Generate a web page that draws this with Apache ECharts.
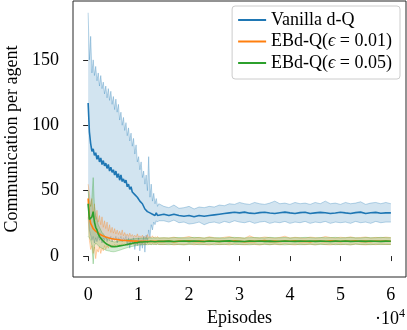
<!DOCTYPE html>
<html>
<head>
<meta charset="utf-8">
<script src="https://cdn.jsdelivr.net/npm/echarts@6/dist/echarts.min.js"></script>
<style>html,body{margin:0;padding:0;background:#fff;}#c{width:407px;height:330px;}</style>
</head>
<body>
<div id="c"></div>
<script>
const episodes = [0,250,500,750,1000,1250,1500,1750,2000,2250,2500,2750,3000,3250,3500,3750,4000,4250,4500,4750,5000,5250,5500,5750,6000,6250,6500,6750,7000,7250,7500,7750,8000,8250,8500,8750,9000,9250,9500,9750,10000,10250,10500,10750,11000,11250,11500,11750,12000,12250,12500,12750,13000,13250,13500,13750,14000,
15000,16000,17000,18000,19000,20000,21000,22000,23000,24000,25000,26000,27000,28000,29000,30000,31000,32000,33000,34000,35000,36000,37000,38000,39000,40000,41000,42000,43000,44000,45000,46000,47000,48000,49000,50000,51000,52000,53000,54000,55000,56000,57000,58000,59000,60000];

const vanillaMean = [117,95,86,80,82,77,79,74,77,72,75,70,73,69,71,67,70,65,68,64,66,62,65,60,63,58,62,57,59,56,58,53,55,51,53,49,50,47,48,45,46,42,43,40,39,36,37,34,35,33,34,32,33,31,33,31,32,
32,31,32,31,30.5,31,30,31,30.5,31,31.5,32,32.5,33,33.5,33,33.6,32.8,32.5,33.2,33.5,32.9,32.6,33.1,33.6,33,32.5,33.2,33.5,32.6,33,33.4,33.1,32.5,32.9,33.5,33,32.6,33.2,33.6,32.5,33.1,33.4,32.7,33,33];
const vanillaHigh = [186,150,168,140,150,138,145,134,140,130,138,128,133,124,130,121,128,119,126,116,122,112,120,110,116,104,110,100,106,96,102,92,98,88,94,84,90,78,85,72,76,66,72,60,65,55,62,50,76,45,55,42,48,40,44,38,40,
38,37,39,36.5,37,38,36,37.5,37,38,37.5,39,38.5,40,39.5,41,40,39.5,41,40,39.5,40.5,42,40,40.5,39.5,41,40,40.5,39.5,41,40,42,40,40.5,39.5,41,40,40.5,41.5,39.5,40.5,41,40,41,40];
const vanillaLow = [40,20,16,12,15,10,14,11,15,12,14,10,14,12,15,11,14,12,15,11,14,12,15,10,14,12,15,11,14,12,15,8,14,6,13,10,14,5,12,8,14,4,12,6,15,3,16,10,20,14,24,20,26,24,27,26,27,
27,26,27.5,25.5,26,24.5,25,26,24,25.5,26,25,26.5,25.5,27,26,25.5,26.5,25,26,26.5,25,26,25.5,26.5,25,26,25.5,26.5,25,26,25.5,26.5,25,26,25.5,26,25,26.5,25.5,26,25,26.5,25.5,26,26];

const eps01Mean = [44,30,25,26,21,22.5,19,19.5,17.5,17.5,16.3,16.5,15.3,15.5,14.6,14.7,14,14.1,13.5,13.6,13.1,13.2,12.8,12.9,12.5,12.6,12.2,12.4,12,12.2,11.9,12,11.7,11.9,11.6,11.8,11.5,11.7,11.4,11.6,11.3,11.5,11.2,11.5,11.3,11.5,11.2,11.5,11.3,11.4,11.2,11.5,11.3,11.4,11.2,11.5,11.3,
11.2,11.5,11,11.4,11.3,11.6,11.1,11.4,11.2,11.7,11.3,11.1,11.5,11.2,11.6,11.3,11,11.4,11.2,11.5,11.8,11.2,11.4,11.1,11.5,11.3,11.6,11.2,11.4,11,11.5,11.3,11.2,11.6,11.4,11.1,11.5,11.3,11.7,11.2,11.4,11.1,11.5,11.3,11.4,11.3];
const eps01High = [55,48,38,44,32,40,28,35,26,31,24,30,22,27,21,26,19,24,18,22,17.5,21,17,20,16.5,19,16,20,15.5,18,15.5,17,15,17.5,15,16.5,14.8,16,14.5,17,14.5,15.5,14.2,16,14.2,15,14,16.5,14,15,14,15.5,13.8,14.8,14,15,13.8,
14,13.8,14.5,13.6,14.2,15,13.8,14.3,13.7,14.8,14,13.6,14.4,14.9,13.8,14.2,13.6,15.5,14,13.9,14.6,14.1,13.7,14.3,15.2,13.8,14.4,14,13.7,14.5,14.1,13.9,15,14.2,13.8,14.4,14,14.7,13.9,14.2,14.6,13.8,14.3,14,14.5,14.1];
const eps01Low = [30,12,5,8,2,7,-2,5,3,7,2,6,4,8,5,8,6,9,6.5,8.5,7,9,7.5,9,8,9.2,8,9.5,8.2,9.5,8.5,9.4,8.6,9.5,8.5,9.6,8.7,9.4,8.6,9.7,8.8,9.5,8.7,9.6,8.8,9.4,8.6,9.6,8.9,9.5,8.7,9.6,8.8,9.5,8.7,9.6,8.8,
8.8,9.2,8.5,9,8.7,9.3,8.6,9.1,8.8,8.4,9.2,8.7,9,8.5,9.3,8.8,8.6,9.1,8.9,8.4,9.2,8.7,9,8.6,9.3,8.8,8.5,9.1,8.7,9,8.6,9.2,8.8,8.5,9.1,8.7,9,8.6,9.2,8.8,8.5,9,8.7,9.1,8.8,8.9];

const eps05Mean = [40,28,27,30,34,26,22,20,17,15,14,12.5,11.5,10.5,9.5,9,8.5,8,7.5,7.2,7,7.2,7,7.4,7.5,7.8,7.7,8.1,8.3,8.4,8.8,8.9,9.2,9.3,9.6,9.7,10,10.2,10.3,10.3,10.5,10.7,10.6,10.8,10.8,10.9,11.1,10.9,11,11.2,11,11.1,11.3,11,11.1,11.2,11.1,
11.2,11.4,11.1,11.3,11.5,11.2,11.4,11.3,11.1,11.5,11.3,11.2,11.4,11.6,11.2,11.3,11.1,11.4,11.3,11.5,11.2,11.4,11.1,11.3,11.5,11.3,11.2,11.4,11.3,11.5,11.2,11.4,11.3,11.1,11.4,11.3,11.5,11.2,11.3,11.4,11.2,11.5,11.3,11.2,11.4,11.3];
const eps05High = [50,40,38,45,60,38,31,28,24,22,20,18,17,15.5,14,13.2,12.5,12,11.5,11.2,11,10.8,11,11.2,11.3,11.5,11.6,11.8,12,12.2,12.4,12.5,12.7,12.8,13,13.1,13.2,13.3,13.4,13.5,13.5,13.6,13.6,13.7,13.7,13.8,13.8,13.7,13.8,13.9,13.8,13.9,14,13.8,13.9,14,13.9,
14,13.9,14.1,14.2,13.9,14,14.3,14.1,13.9,14.2,14,14.1,13.8,14.2,14.3,14,13.9,14.1,14.2,14,13.9,14.3,14.1,14,14.2,13.9,14.1,14,14.3,14.1,13.9,14.2,14,14.1,14.3,13.9,14.1,14.2,14,13.9,14.2,14.1,14,14.3,14.1,14];
const eps05Low = [15,14,12,8,-6,8,10,9,8,7,6.5,6,5.5,5,4.5,4.2,4,3.8,3.5,3.4,3.3,3.4,3.6,3.9,4.2,4.5,4.8,5.2,5.5,5.8,6.1,6.4,6.7,7,7.2,7.4,7.6,7.8,8,8.1,8.3,8.4,8.5,8.6,8.7,8.7,8.8,8.7,8.8,8.9,8.8,8.9,9,8.8,8.9,9,8.9,
8.9,8.7,9,8.8,8.6,8.9,9.1,8.7,8.8,9,8.6,8.9,8.8,9.1,8.7,8.9,8.8,8.6,9,8.8,8.9,8.7,9.1,8.8,8.6,8.9,9,8.7,8.8,9,8.6,8.9,8.8,9.1,8.7,8.9,8.8,8.6,9,8.8,8.9,8.7,9,8.8,8.9,8.8];

const seriesNames = ['Vanilla d-Q', 'EBd-Q(ϵ = 0.01)', 'EBd-Q(ϵ = 0.05)'];
const seriesColors = ['#1f77b4', '#ff7f0e', '#2ca02c'];
const xTicks = [0, 10000, 20000, 30000, 40000, 50000, 60000];
const yTicks = [0, 50, 100, 150];

const FONT = 'Liberation Serif';
const FS = 18;

function pairs(arr) { return episodes.map((x, i) => [x, arr[i]]); }

function bandSeries(low, high, color) {
  return {
    type: 'custom', silent: true, clip: true,
    data: [[episodes[0], low[0]]],
    renderItem: function (params, api) {
      const up = episodes.map((x, i) => api.coord([x, high[i]]));
      const dn = episodes.map((x, i) => api.coord([x, low[i]]));
      const poly = up.concat(dn.slice().reverse());
      return {
        type: 'group',
        children: [
          { type: 'polygon', shape: { points: poly }, style: { fill: color, opacity: 0.2 } },
          { type: 'polyline', shape: { points: up }, style: { stroke: color, fill: null, lineWidth: 1, opacity: 0.3 } },
          { type: 'polyline', shape: { points: dn }, style: { stroke: color, fill: null, lineWidth: 1, opacity: 0.3 } }
        ]
      };
    }
  };
}
function meanSeries(name, mean, color) {
  return {
    type: 'line', name: name, data: pairs(mean), symbol: 'none',
    itemStyle: { color: color },
    lineStyle: { color: color, width: 1.6 }
  };
}

const chart = echarts.init(document.getElementById('c'), null, { renderer: 'canvas' });
chart.setOption({
  animation: false,
  backgroundColor: '#ffffff',
  grid: {
    left: 73, right: 1, top: 1, bottom: 53,
    show: true, borderColor: '#262626', borderWidth: 1,
    containLabel: false, outerBoundsMode: 'none'
  },
  legend: {
    data: seriesNames,
    orient: 'vertical',
    right: 7, top: 6,
    padding: [5, 8, 7, 6],
    itemGap: 3.5,
    itemWidth: 28, itemHeight: 2,
    icon: 'rect',
    backgroundColor: 'rgba(255,255,255,0.8)',
    borderColor: '#cccccc', borderWidth: 1, borderRadius: 3,
    formatter: n => n.replace('ϵ', '{i|ϵ}'),
    textStyle: {
      fontFamily: FONT, fontSize: FS, color: '#000', lineHeight: 18,
      rich: { i: { fontFamily: FONT, fontSize: FS, fontStyle: 'italic', color: '#000' } }
    }
  },
  xAxis: {
    type: 'value', min: -3000, max: 63000,
    name: 'Episodes', nameLocation: 'middle', nameGap: 31,
    nameTextStyle: { fontFamily: FONT, fontSize: FS, color: '#000' },
    axisLine: { show: false },
    splitLine: { show: false },
    axisTick: { show: true, inside: false, length: 5, customValues: xTicks, lineStyle: { color: '#262626', width: 1 } },
    axisLabel: { customValues: xTicks, margin: 9, fontFamily: FONT, fontSize: FS, color: '#000', formatter: v => String(v / 10000) }
  },
  yAxis: {
    type: 'value', min: -16, max: 195,
    name: 'Communication per agent', nameLocation: 'middle', nameGap: 47,
    nameTextStyle: { fontFamily: FONT, fontSize: FS, color: '#000' },
    axisLine: { show: false },
    splitLine: { show: false },
    axisTick: { show: true, inside: false, length: 5, customValues: yTicks, lineStyle: { color: '#262626', width: 1 } },
    axisLabel: { customValues: yTicks, margin: 14, fontFamily: FONT, fontSize: FS, color: '#000' }
  },
  graphic: [{
    type: 'text', right: 2, top: 308,
    style: {
      text: '{a|·10}{b|4}',
      rich: {
        a: { fontFamily: FONT, fontSize: FS, fill: '#000', verticalAlign: 'bottom', lineHeight: 20 },
        b: { fontFamily: FONT, fontSize: 12, fill: '#000', verticalAlign: 'top', lineHeight: 12 }
      }
    }
  }],
  series: [
    bandSeries(vanillaLow, vanillaHigh, seriesColors[0]),
    meanSeries(seriesNames[0], vanillaMean, seriesColors[0]),
    bandSeries(eps01Low, eps01High, seriesColors[1]),
    meanSeries(seriesNames[1], eps01Mean, seriesColors[1]),
    bandSeries(eps05Low, eps05High, seriesColors[2]),
    meanSeries(seriesNames[2], eps05Mean, seriesColors[2])
  ]
});
</script>
</body>
</html>
